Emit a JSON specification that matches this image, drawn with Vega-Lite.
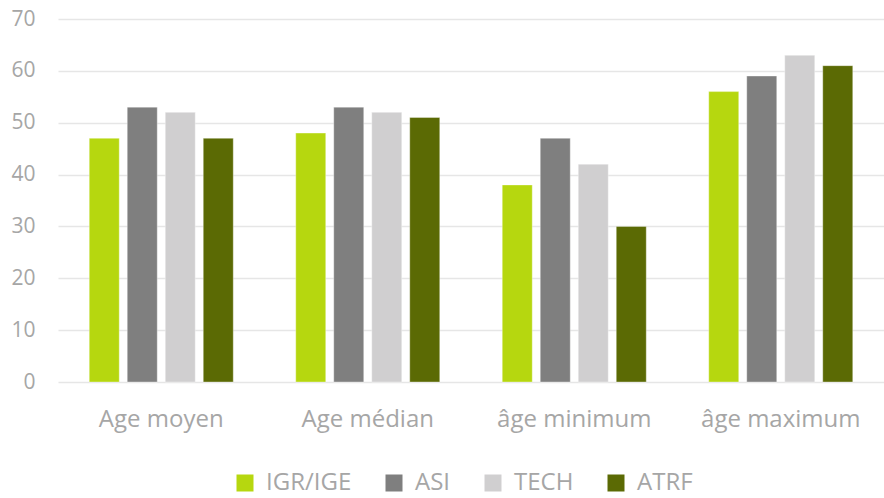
{
  "$schema": "https://vega.github.io/schema/vega-lite/v6.json",
  "width": 826,
  "height": 363,
  "autosize": {"type": "none"},
  "padding": {"left": 58, "top": 19, "right": 0, "bottom": 116},
  "background": "white",
  "config": {
    "view": {"stroke": null},
    "font": "Open Sans",
    "axis": {"labelFont": "Open Sans", "labelColor": "#a6a6a6"},
    "legend": {"labelFont": "Open Sans"}
  },
  "data": {
    "values": [
      {"cat": "Age moyen", "grp": "IGR/IGE", "v": 47},
      {"cat": "Age moyen", "grp": "ASI", "v": 53},
      {"cat": "Age moyen", "grp": "TECH", "v": 52},
      {"cat": "Age moyen", "grp": "ATRF", "v": 47},
      {"cat": "Age médian", "grp": "IGR/IGE", "v": 48},
      {"cat": "Age médian", "grp": "ASI", "v": 53},
      {"cat": "Age médian", "grp": "TECH", "v": 52},
      {"cat": "Age médian", "grp": "ATRF", "v": 51},
      {"cat": "âge minimum", "grp": "IGR/IGE", "v": 38},
      {"cat": "âge minimum", "grp": "ASI", "v": 47},
      {"cat": "âge minimum", "grp": "TECH", "v": 42},
      {"cat": "âge minimum", "grp": "ATRF", "v": 30},
      {"cat": "âge maximum", "grp": "IGR/IGE", "v": 56},
      {"cat": "âge maximum", "grp": "ASI", "v": 59},
      {"cat": "âge maximum", "grp": "TECH", "v": 63},
      {"cat": "âge maximum", "grp": "ATRF", "v": 61}
    ]
  },
  "mark": {"type": "bar", "stroke": "#ffffff", "strokeOpacity": 0.35, "strokeWidth": 1},
  "encoding": {
    "x": {
      "field": "cat", "type": "nominal",
      "sort": ["Age moyen", "Age médian", "âge minimum", "âge maximum"],
      "scale": {"paddingInner": 0, "paddingOuter": 0},
      "axis": {"title": null, "labelAngle": 0, "labelFontSize": 24, "labelPadding": 25, "ticks": false, "domain": false}
    },
    "xOffset": {
      "field": "grp", "type": "nominal",
      "sort": ["IGR/IGE", "ASI", "TECH", "ATRF"],
      "scale": {"paddingInner": 0.2105, "paddingOuter": 0.822}
    },
    "y": {
      "field": "v", "type": "quantitative",
      "scale": {"domain": [0, 70], "nice": false},
      "axis": {"title": null, "values": [0,10,20,30,40,50,60,70], "labelFontSize": 21, "labelPadding": 23, "ticks": false, "domain": false, "gridColor": "#e6e6e6", "gridWidth": 1.5}
    },
    "color": {
      "field": "grp", "type": "nominal",
      "sort": ["IGR/IGE", "ASI", "TECH", "ATRF"],
      "scale": {"domain": ["IGR/IGE", "ASI", "TECH", "ATRF"], "range": ["#b6d70f", "#7f7f7f", "#d0cfd0", "#5b6a04"]},
      "legend": {
        "title": null, "orient": "none", "direction": "horizontal",
        "legendX": 175, "legendY": 452,
        "symbolType": "square", "symbolSize": 289, "symbolStrokeWidth": 0,
        "labelFontSize": 24, "labelColor": "#a6a6a6", "columnPadding": 30, "labelOffset": 9
      }
    }
  }
}
